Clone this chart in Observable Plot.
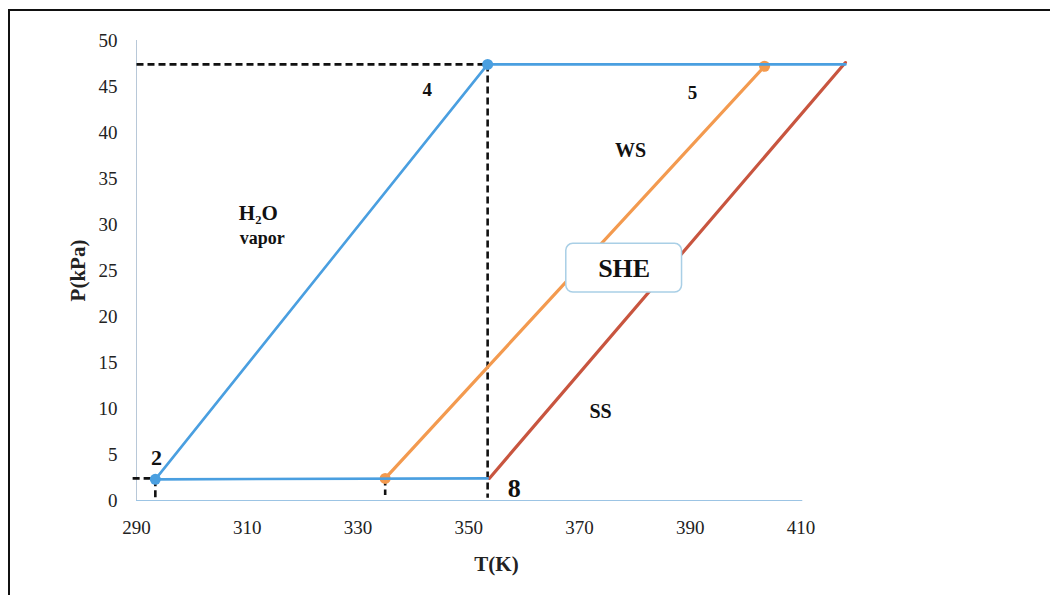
<!DOCTYPE html>
<html>
<head>
<meta charset="utf-8">
<script src="https://cdn.jsdelivr.net/npm/d3@7"></script>
<script src="https://cdn.jsdelivr.net/npm/@observablehq/plot@0.6"></script>
<style>
  html, body { margin: 0; padding: 0; background: #fff; }
  #wrap { position: relative; width: 1050px; height: 595px; overflow: hidden; }
  #frame { position: absolute; left: 8px; top: 9px; width: 1060px; height: 600px;
           border-top: 2px solid #111; border-left: 2px solid #111; box-sizing: border-box; pointer-events: none; }
  #chart { position: absolute; left: 0; top: 0; }
  #chart svg { font-family: "Liberation Serif", "Times New Roman", serif; }
  g[aria-label="x-axis label"] text, g[aria-label="y-axis label"] text { font-weight: bold; font-size: 21px; }
</style>
</head>
<body>
<div id="wrap"><div id="chart"></div><div id="frame"></div></div>
<script>
// ---- data ----
// H2O vapor cycle path (blue): 8 -> 2 -> 4 -> end
const vaporT = [353.4, 293.4, 353.4, 418.0];
const vaporP = [2.4, 2.3, 47.4, 47.4];
const vaporMarkT = [293.4, 353.4];
const vaporMarkP = [2.3, 47.4];
// Weak solution (orange)
const wsT = [334.9, 403.4];
const wsP = [2.4, 47.2];
// Strong solution (red)
const ssT = [353.7, 418.0];
const ssP = [2.4, 47.6];
// dashed guide segments
const guideT1 = [290.0, 353.4, 289.3, 293.4, 334.9];
const guideT2 = [353.4, 353.4, 293.4, 293.4, 334.9];
const guideP1 = [47.4, 47.4, 2.4, 2.3, 2.4];
const guideP2 = [47.4, 0.3, 2.4, 0.0, 0.6];
// annotations
const labelText = ["2", "4", "5", "WS", "H\u2082O", "vapor", "SS", "8"];
const labelT = [293.6, 342.5, 390.4, 379.2, 312.0, 312.7, 373.8, 358.2];
const labelP = [4.6, 44.6, 44.3, 38.0, 31.2, 28.5, 9.7, 1.3];
const labelSize = [22, 19, 19, 20, 21, 18, 20, 26];
const boxText = "SHE";
const boxT = [367.6, 388.5];
const boxP = [22.6, 27.9];
// ticks
const xTicks = [290, 310, 330, 350, 370, 390, 410];
const yTicks = [0, 5, 10, 15, 20, 25, 30, 35, 40, 45, 50];

const toRows = (xs, ys) => xs.map((x, i) => ({T: x, P: ys[i]}));
const vapor = toRows(vaporT, vaporP);
const vaporMarks = toRows(vaporMarkT, vaporMarkP);
const ws = toRows(wsT, wsP);
const ss = toRows(ssT, ssP);
const guides = guideT1.map((t, i) => ({x1: t, x2: guideT2[i], y1: guideP1[i], y2: guideP2[i]}));
const labels = labelText.map((s, i) => ({s, T: labelT[i], P: labelP[i], size: labelSize[i]}));

const blue = "#4a9fe0", orange = "#f39a4f", red = "#c8553f";

const plot = Plot.plot({
  width: 1050,
  height: 595,
  marginLeft: 136,
  marginRight: 194,
  marginTop: 40,
  marginBottom: 95,
  style: {fontFamily: "Liberation Serif, serif", fontSize: "19px", background: "transparent", color: "#222"},
  x: {domain: [290, 420]},
  y: {domain: [0, 50]},
  marks: [
    Plot.ruleX([290], {y1: 0, y2: 50, stroke: "#b8c8d8", strokeWidth: 1}),
    Plot.ruleY([0], {x1: 290, x2: 410.3, stroke: "#9cc4e4", strokeWidth: 1.2}),
    Plot.axisX({ticks: xTicks, tickSize: 0, tickPadding: 20, tickFormat: d => String(d), label: "T(K)", labelAnchor: "center", labelArrow: "none", labelOffset: 70, fontSize: 19}),
    Plot.axisY({ticks: yTicks, tickSize: 0, tickPadding: 19, tickFormat: d => String(d), label: "P(kPa)", labelAnchor: "center", labelArrow: "none", labelOffset: 66, fontSize: 19}),
    Plot.link(guides, {x1: "x1", x2: "x2", y1: "y1", y2: "y2", stroke: "#111", strokeWidth: 2.6, strokeDasharray: "7,4"}),
    Plot.line(ss, {x: "T", y: "P", stroke: red, strokeWidth: 3.2}),
    Plot.line(ws, {x: "T", y: "P", stroke: orange, strokeWidth: 3.2}),
    Plot.dot(ws, {x: "T", y: "P", fill: orange, r: 5.5}),
    Plot.line(vapor, {x: "T", y: "P", stroke: blue, strokeWidth: 2.6}),
    Plot.dot(vaporMarks, {x: "T", y: "P", fill: blue, r: 5.5}),
    Plot.rect([{x1: boxT[0], x2: boxT[1], y1: boxP[0], y2: boxP[1]}], {x1: "x1", x2: "x2", y1: "y1", y2: "y2", fill: "white", stroke: "#a9cfe6", strokeWidth: 1.5, rx: 7}),
    Plot.text([boxText], {x: (boxT[0] + boxT[1]) / 2, y: (boxP[0] + boxP[1]) / 2, text: d => d, fontSize: 26, fontWeight: "bold", fill: "#111"}),
    Plot.text(labels, {x: "T", y: "P", text: "s", fontSize: "size", fontWeight: "bold", fill: "#111"})
  ]
});
document.getElementById("chart").appendChild(plot);
</script>
</body>
</html>
